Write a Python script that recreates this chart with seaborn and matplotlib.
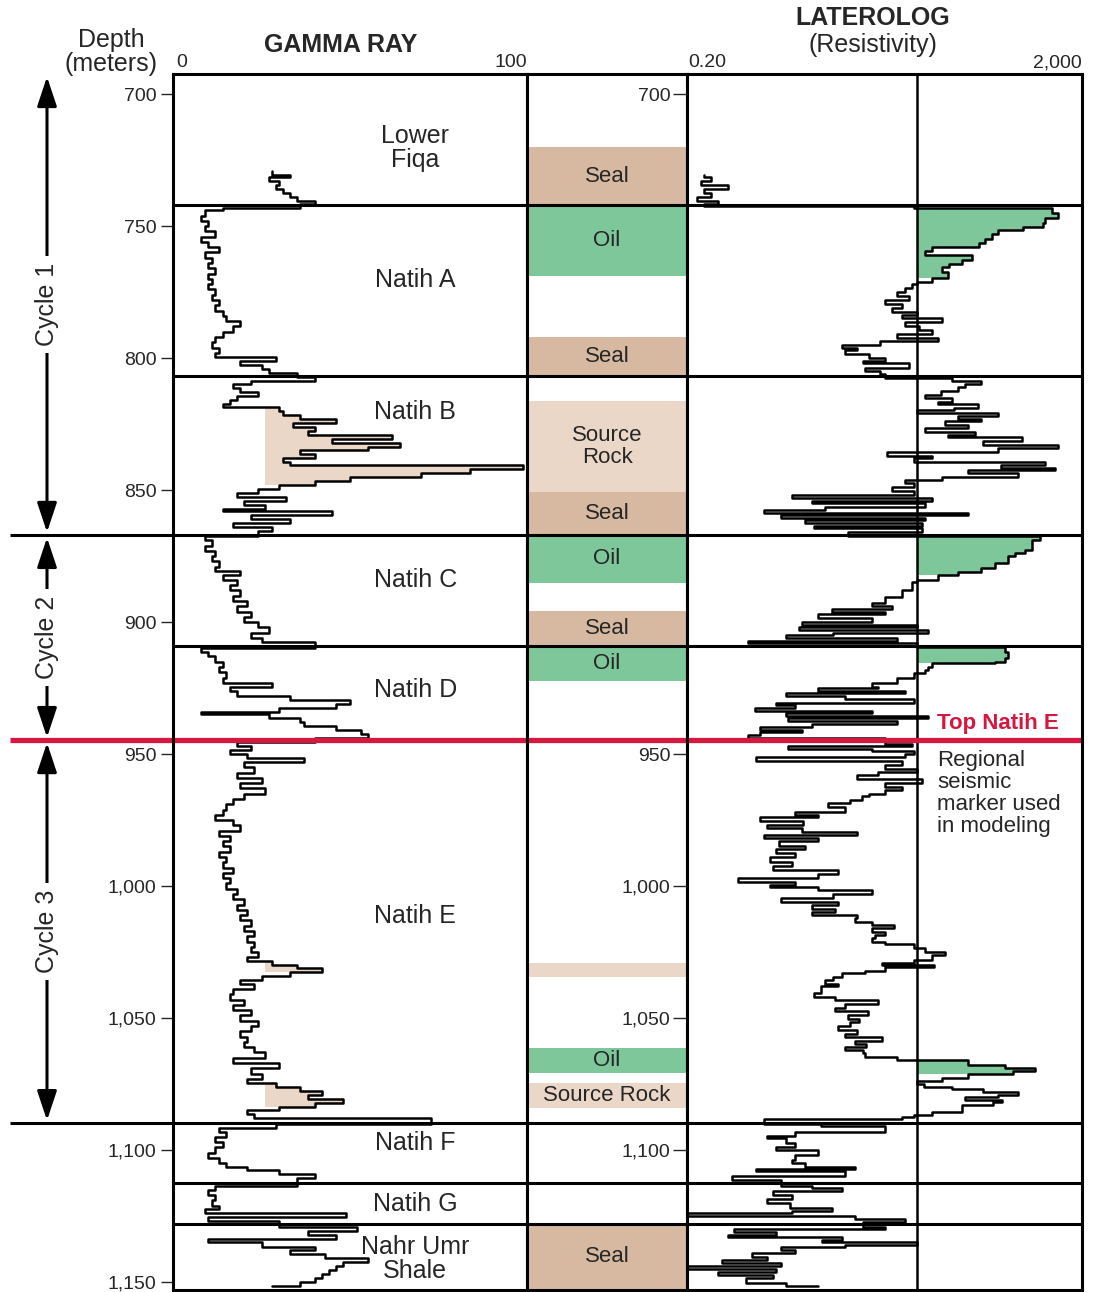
import matplotlib.pyplot as plt
import matplotlib.transforms as mtransforms
from matplotlib.ticker import FuncFormatter, NullLocator
import seaborn as sns
import pandas as pd
import numpy as np

# --- gamma ray curve (API) ---
gr_depth = [729, 730.5, 731.5, 733, 734.5, 736, 737.5, 739, 740.5, 741.5,
            743, 744, 746, 748, 750, 752, 754, 756, 758, 760, 762, 764, 766, 768, 770,
            772, 774, 776, 778, 780, 782, 784, 786, 788, 790, 792, 794, 796, 798,
            799.5, 801, 802.5, 804, 805.5, 807,
            808.5, 810, 811.5, 813, 814.5, 816, 817.5, 818.6, 820, 821.5, 823, 824.5,
            826, 827.5, 829, 830.5, 832, 833.5, 835, 836.5, 838, 839.5, 840.5, 842,
            843.5, 845, 846.5, 848, 849.5, 851, 852.5, 854, 855.5, 857, 858, 859.5,
            861, 862.5, 864, 865.5,
            867.5, 869, 871, 873, 875, 877, 879, 880.5, 882, 884, 886, 888, 890, 892,
            894, 896, 898, 900, 902, 904, 906, 907.5,
            910, 911.5, 913, 915, 917, 919, 921, 923, 924.5, 926, 928, 929.5, 931,
            932.5, 934, 935, 936.5, 938, 939.5, 941, 942.5, 944,
            945.5, 947, 948.5, 950, 951.5, 953, 955, 957, 959, 961, 963, 965, 967, 969,
            971, 973, 975, 977, 979, 981, 983, 985, 987, 989, 991, 993, 995, 997, 999,
            1001, 1003, 1005, 1007, 1009, 1011, 1013, 1015, 1017, 1019, 1021, 1023,
            1025, 1027, 1028.5, 1030, 1031, 1032.5, 1034, 1035.5, 1037, 1039, 1041,
            1043, 1045, 1047, 1049, 1051, 1053, 1055, 1057, 1059, 1061, 1063, 1065,
            1067, 1069, 1071, 1073, 1074.5, 1076, 1077.5, 1079, 1080.5, 1082, 1083.5,
            1085, 1086.5, 1088,
            1090, 1091.5, 1093, 1095, 1097, 1099, 1101, 1103, 1105, 1106.5, 1107.5,
            1109, 1110.5,
            1113.5, 1115, 1117, 1119, 1121, 1122.5, 1124, 1125.5, 1127,
            1129, 1130.5, 1132, 1133.5, 1135, 1136.7, 1138, 1139.5, 1141, 1142.5,
            1144, 1145.5, 1147, 1148.5, 1150, 1151.5]
gr_value = [28, 33, 27, 30, 29, 31, 33, 35, 40, 36,
            14, 9, 8, 10, 9, 12, 8, 10, 13, 9, 11, 10, 12, 10, 11,
            10, 12, 11, 13, 12, 14, 15, 19, 17, 14, 12, 11, 13, 12,
            29, 19, 25, 27, 35, 40,
            22, 17, 19, 24, 18, 16, 14, 30, 31, 36, 46, 34,
            40, 38, 62, 45, 64, 55, 36, 40, 31, 33, 99, 84,
            70, 50, 40, 30, 24, 18, 32, 20, 26, 14, 45, 22,
            33, 17, 28, 24,
            9, 11, 9, 12, 11, 13, 12, 19, 14, 18, 16, 19, 17, 21,
            18, 22, 20, 24, 27, 22, 25, 40,
            8, 10, 12, 14, 13, 15, 14, 28, 16, 18, 33, 50, 46,
            30, 8, 27, 36, 37, 46, 53, 55, 40,
            18, 22, 16, 21, 37, 20, 23, 18, 25, 19, 26, 20, 17, 15,
            14, 12, 17, 19, 13, 16, 14, 16, 13, 15, 14, 17, 14, 16, 15,
            18, 17, 20, 18, 21, 19, 22, 20, 23, 21, 23, 22,
            24, 21, 28, 35, 42, 33, 25, 19, 23, 17, 16,
            20, 17, 22, 19, 24, 22, 19, 21, 20, 23, 26, 17,
            30, 22, 25, 21, 29, 36, 42, 38, 48, 40, 30,
            21, 23, 73,
            29, 13, 15, 12, 14, 12, 10, 13, 15, 21, 30,
            40, 35,
            12, 10, 12, 11, 13, 9, 49, 10, 30,
            52, 38, 46, 10, 25, 40, 33, 43, 55, 48,
            46, 44, 42, 40, 36, 28]

# --- laterolog resistivity (ohm-m) ---
ll_depth = [730.5, 731.5, 733, 734.5, 736, 737.5, 739, 740.5, 741.8, 742.5,
            743.2, 745, 747, 749, 750.5, 751.5, 753, 755, 756.5, 758, 759.5, 761,
            763, 764.5, 765.5, 767.5, 769.5, 771, 772, 773.5, 775, 776.5, 778, 779.5,
            781, 782.5, 783.5, 785, 786.5, 788, 789.5, 791, 792.5, 793.5, 795, 796,
            797, 798.5, 800, 801, 802, 803.8, 805, 806,
            807.5, 808.5, 810, 811, 812.5, 814, 815, 816.5, 817.5, 819, 819.8, 820.8,
            822, 823, 824, 825.5, 826.5, 828, 829, 830, 831.5, 833, 834, 835.5, 837,
            838, 839.4, 840.5, 841.7, 842.5, 843.6, 845, 846, 847.5, 849, 850.5, 852,
            853, 854, 855, 856.5, 857.6, 858.5, 859.5, 860.5, 861.5, 862.5, 863.5,
            864.5, 866,
            867.5, 869, 871.5, 872.7, 874, 875, 877.5, 879.5, 881, 882, 884, 885, 888,
            890.5, 892.8, 894, 895, 896, 897, 898.5, 900, 901, 902, 903, 904, 905, 906,
            907, 908,
            909.6, 911.4, 913.6, 915, 915.5, 917, 918, 919.3, 921, 923, 924.5, 925, 926,
            926.8, 928, 929, 930.5, 931.5, 932.4, 933.5, 934.5, 935.5, 936.5, 937.5,
            938.5, 939.8, 940.8, 941.7, 942.8, 944,
            946, 947, 948, 949, 950, 951, 952.5, 954, 955.5, 956.8, 958, 959.5, 961,
            962.5, 963.6, 965, 966, 967.5, 968.6, 970, 972, 973, 974, 975.5, 977, 978,
            979.5, 980.5, 981.8, 983, 985, 986, 987.5, 989, 991, 992.5, 994, 995.5,
            997, 998.5, 999.6, 1000.5, 1001.5, 1003, 1004.5, 1006, 1007, 1008.5, 1010,
            1011, 1012, 1013.5, 1014.8, 1016, 1017.4, 1018.5, 1019.7, 1021, 1022,
            1023.5, 1025, 1026, 1027, 1028, 1029, 1030, 1030.7, 1032, 1033, 1034.5,
            1035.6, 1037, 1038, 1040.5, 1042, 1043, 1044.5, 1046, 1047.5, 1049, 1050.5,
            1051.5, 1053, 1054.5, 1056, 1057, 1058.5, 1060, 1061, 1062, 1063.3, 1064.8,
            1066, 1067.8, 1069, 1070, 1071, 1072.7, 1074, 1075, 1076, 1077, 1078,
            1079, 1080, 1081, 1081.8, 1083, 1085.6, 1086.7, 1087.5, 1088.3,
            1090, 1091, 1093, 1094.5, 1095.5, 1097.3, 1099, 1100, 1102, 1103.8, 1105,
            1106.4, 1107.3, 1108, 1110, 1111.4,
            1113.5, 1114.5, 1115.5, 1117, 1118.5, 1120, 1122, 1123, 1124, 1125, 1126,
            1127.2,
            1129, 1130, 1131, 1132, 1133, 1134, 1135, 1136, 1136.7, 1138, 1139, 1140.5,
            1141.7, 1142.8, 1144, 1145, 1146, 1147.5, 1148.5, 1150.4, 1151.5]
ll_value = [0.3, 0.35, 0.28, 0.52, 0.3, 0.35, 0.25, 0.41, 0.3, 40,
            1000, 1150, 850, 800, 500, 285, 246, 210, 180, 60, 52, 155,
            122, 90, 76, 87, 60, 43, 38, 32, 27, 35, 20, 30,
            24, 43, 30, 76, 32, 45, 60, 27, 69, 18, 7.4, 10.6,
            8, 14, 20, 12, 35, 12.6, 18, 20,
            96, 190, 130, 110, 75, 52, 96, 69, 178, 100, 43, 285,
            110, 190, 82, 140, 52, 165, 87, 490, 200, 1150, 285, 21, 60,
            40, 840, 300, 1070, 140, 450, 76, 32, 40, 24, 40, 2.3,
            60, 3.7, 52, 5, 1.2, 140, 1.8, 52, 3.1, 48, 3.9,
            48, 8.5,
            750, 620, 620, 530, 420, 355, 265, 190, 110, 69, 43, 38, 30,
            20, 15, 24, 5.9, 20, 4.2, 15, 2.9, 43, 2.7, 55, 6, 2, 27,
            0.83, 43,
            330, 355, 330, 265, 60, 55, 52, 40, 27, 15, 17, 4.2, 32,
            2, 8, 40, 1.6, 2.5, 0.97, 15, 2, 55, 2.1, 27,
            3.7, 1.1, 2.9, 1.1, 0.83, 20,
            38, 2.1, 15, 40, 32, 1, 30, 20, 43, 17, 10.6, 48, 20,
            30, 20, 14, 11.8, 9, 5.4, 8, 2.5, 4.2, 1.1, 3, 1.3, 2.9,
            10.6, 1.2, 4.2, 1.7, 3.1, 1.6, 2.5, 1.4, 2.3, 1.5, 6.8, 4.2,
            0.66, 2.5, 1.4, 4.2, 15, 6, 1.8, 6.8, 3.7, 6.3, 3.7,
            10.6, 10, 15, 25, 15, 20, 16, 15, 20, 40,
            52, 82, 60, 60, 40, 19, 64, 20, 12.6, 7.4, 6,
            5, 6.8, 4.5, 3.9, 6.3, 17, 8, 6.3, 13.5, 8.5, 11,
            9, 6.8, 10.6, 8, 19, 10, 13, 8, 12, 12.6, 27,
            140, 330, 670, 400, 140, 76, 43, 50, 96, 200, 450,
            285, 130, 310, 250, 122, 60, 40, 30, 1.2,
            4.5, 20, 2.5, 1.3, 2, 2.5, 1.6, 4.2, 2.5, 2.3, 3.1,
            10, 1, 8, 0.57, 1.8,
            3.7, 7.4, 1.5, 2.3, 1.3, 2.2, 5.9, 2.3, 0.2, 10, 32,
            12,
            20, 0.6, 1.6, 0.52, 7.5, 4.7, 43, 8, 1.8, 2.5, 0.9, 1.3,
            0.45, 1.8, 0.2, 1.6, 0.41, 1.5, 0.8, 2, 4.2]

gr_cutoff = 26
ll_cutoff = 43
gr_fill_ranges = [(818.5, 849.5), (1028.5, 1034), (1074.5, 1085)]
oil_fill_ranges = [(742.5, 772), (867, 886), (909, 916), (1065.5, 1072)]

# middle column: seal / oil / source rock intervals
zone_top = [720.1, 742, 792, 816.3, 850.8, 867, 895.8, 909.1, 1029.2, 1061.4, 1074.6, 1128]
zone_base = [742, 768.9, 806.8, 850.8, 867, 885.2, 909.1, 922.3, 1034.5, 1070.8, 1084.1, 1153]
zone_kind = ["Seal", "Oil", "Seal", "Source Rock", "Seal", "Oil", "Seal", "Oil",
             "Source Rock", "Oil", "Source Rock", "Seal"]
zone_label = ["Seal", "Oil", "Seal", "Source\nRock", "Seal", "Oil", "Seal", "Oil",
              "", "Oil", "Source Rock", "Seal"]

formation_names = ["Lower\nFiqa", "Natih A", "Natih B", "Natih C", "Natih D",
                   "Natih E", "Natih F", "Natih G", "Nahr Umr\nShale"]
formation_label_depth = [720.6, 770.5, 820.5, 884, 925.8, 1011.4, 1097.3, 1120.5, 1141.1]
boundaries = [742, 806.8, 867, 909.1, 1089.8, 1112.5, 1128]
long_boundaries = [867, 1089.8]
top_natih_e = 944.7

cycle_names = ["Cycle 1", "Cycle 2", "Cycle 3"]
cycle_top = [692.4, 867, 944.7]
cycle_base = [867, 944.7, 1089.8]

depth_ticks = list(range(700, 1151, 50))
mid_ticks = [700, 950, 1000, 1050, 1100]

colors = {"Seal": "#d6b9a0", "Oil": "#7dc79a", "Source Rock": "#ebd7c7"}
red = "#d6173f"

sns.set_style("white")
plt.rcParams["font.family"] = ["Liberation Sans", "DejaVu Sans"]

W, H = 1095, 1292
fig = plt.figure(figsize=(W / 100, H / 100), dpi=100)


def px_axes(x0, x1, y0=74, y1=1290):
    return fig.add_axes([x0 / W, 1 - y1 / H, (x1 - x0) / W, (y1 - y0) / H])


ax_gr = px_axes(173, 527)
ax_mid = px_axes(527, 687)
ax_ll = px_axes(687, 1082)
ax_ll.set_xscale("log")

gr_df = pd.DataFrame({"depth": gr_depth, "gr": gr_value})
ll_df = pd.DataFrame({"depth": ll_depth, "ll": ll_value})

# gamma ray
gd = np.array(gr_depth)
gv = np.array(gr_value)
for top, base in gr_fill_ranges:
    m = (gd >= top) & (gd <= base) & (gv > gr_cutoff)
    ax_gr.fill_betweenx(gd, gr_cutoff, gv, where=m, step="post",
                        color=colors["Source Rock"], lw=0, zorder=1)
sns.lineplot(data=gr_df, x="gr", y="depth", orient="y", sort=False, estimator=None,
             color="black", lw=1.8, drawstyle="steps-pre", ax=ax_gr, zorder=3)

# laterolog
ld = np.array(ll_depth)
lv = np.array(ll_value)
for top, base in oil_fill_ranges:
    m = (ld >= top) & (ld <= base) & (lv > ll_cutoff)
    ax_ll.fill_betweenx(ld, ll_cutoff, lv, where=m, step="post",
                        color=colors["Oil"], lw=0, zorder=1)
sns.lineplot(data=ll_df, x="ll", y="depth", orient="y", sort=False, estimator=None,
             color="black", lw=1.8, drawstyle="steps-pre", ax=ax_ll, zorder=3)
ax_ll.axvline(ll_cutoff, color="black", lw=1.8, zorder=4)

# middle column blocks
mid_tr = mtransforms.blended_transform_factory(ax_mid.transAxes, ax_mid.transData)
for top, base, kind, lab in zip(zone_top, zone_base, zone_kind, zone_label):
    ax_mid.axhspan(top, base, color=colors[kind], lw=0, zorder=1)
    if lab:
        ax_mid.text(0.5, (top + base) / 2, lab, transform=mid_tr, ha="center",
                    va="center", fontsize=16, linespacing=1.05, zorder=3)

# formation names
gr_tr = mtransforms.blended_transform_factory(ax_gr.transAxes, ax_gr.transData)
for name, d in zip(formation_names, formation_label_depth):
    ax_gr.text(0.684, d, name, transform=gr_tr, ha="center", va="center",
               fontsize=18, linespacing=1.0, zorder=4)

# boundaries
fig_tr = mtransforms.blended_transform_factory(fig.transFigure, ax_gr.transData)
for ax in (ax_gr, ax_mid, ax_ll):
    for b in boundaries:
        ax.axhline(b, color="black", lw=2.2, zorder=5)
    ax.axhline(top_natih_e, color=red, lw=3.8, zorder=6)
for b in long_boundaries:
    ax_gr.plot([10 / W, 173 / W], [b, b], transform=fig_tr, color="black",
               lw=2.2, clip_on=False, solid_capstyle="butt")
ax_gr.plot([10 / W, 173 / W], [top_natih_e, top_natih_e], transform=fig_tr,
           color=red, lw=3.8, clip_on=False, solid_capstyle="butt")

# cycle arrows
xa = 47 / W
for name, t, b in zip(cycle_names, cycle_top, cycle_base):
    ax_gr.annotate("", xy=(xa, b), xytext=(xa, t),
                   xycoords=("figure fraction", "data"),
                   textcoords=("figure fraction", "data"),
                   arrowprops=dict(arrowstyle="<|-|>,head_length=0.9,head_width=0.3",
                                   lw=2.2, color="black", shrinkA=2, shrinkB=2,
                                   mutation_scale=20),
                   annotation_clip=False)
    ax_gr.text(xa, (t + b) / 2, name, transform=fig_tr, rotation=90, ha="center",
               va="center", fontsize=18, zorder=7,
               bbox=dict(facecolor="white", edgecolor="none", pad=5))

# annotations on laterolog
ll_tr = mtransforms.blended_transform_factory(ax_ll.transAxes, ax_ll.transData)
ax_ll.text(0.633, 938.3, "Top Natih E", transform=ll_tr, color=red,
           fontweight="bold", fontsize=16, va="center", ha="left", zorder=7)
ax_ll.text(0.633, 948.3, "Regional\nseismic\nmarker used\nin modeling", transform=ll_tr,
           fontsize=16, va="top", ha="left", linespacing=1.08, zorder=7)

# axes styling
fmt = FuncFormatter(lambda v, p: f"{int(v):,}")
for ax in (ax_gr, ax_mid, ax_ll):
    ax.set_xlabel("")
    ax.set_ylabel("")
    ax.set_ylim(1153, 692.4)
    ax.tick_params(axis="x", which="both", bottom=False, top=False, labelbottom=False)
    for sp in ax.spines.values():
        sp.set_linewidth(2.2)
        sp.set_color("black")
        sp.set_zorder(8)
ax_gr.set_xlim(0, 100)
ax_ll.set_xlim(0.2, 2000)
ax_ll.xaxis.set_minor_locator(NullLocator())
ax_mid.set_xlim(0, 1)
ax_mid.set_yticks([])

ax_gr.set_yticks(depth_ticks)
ax_gr.yaxis.set_major_formatter(fmt)
ax_gr.tick_params(axis="y", left=True, direction="out", length=9, width=1,
                  labelsize=14, pad=3)
ax_ll.set_yticks(mid_ticks)
ax_ll.yaxis.set_major_formatter(fmt)
ax_ll.tick_params(axis="y", left=True, direction="out", length=10, width=1,
                  labelsize=14, pad=2)

# scale labels and headers
yoff = 1 + 3 / 1216
ax_gr.text(0.008, yoff, "0", transform=ax_gr.transAxes, ha="left", va="bottom", fontsize=14)
ax_gr.text(1.0, yoff, "100", transform=ax_gr.transAxes, ha="right", va="bottom", fontsize=14)
ax_ll.text(0.003, yoff, "0.20", transform=ax_ll.transAxes, ha="left", va="bottom", fontsize=14)
ax_ll.text(1.0, yoff, "2,000", transform=ax_ll.transAxes, ha="right", va="bottom", fontsize=14)

fig.text(111 / W, 1 - 52 / H, "Depth\n(meters)", ha="center", va="center",
         fontsize=18, linespacing=1.0)
fig.text(341 / W, 1 - 45 / H, "GAMMA RAY", ha="center", va="center",
         fontsize=18, fontweight="bold")
fig.text(873 / W, 1 - 18 / H, "LATEROLOG", ha="center", va="center",
         fontsize=18, fontweight="bold")
fig.text(873 / W, 1 - 45 / H, "(Resistivity)", ha="center", va="center", fontsize=18)

fig.savefig("out.png", dpi=100)
